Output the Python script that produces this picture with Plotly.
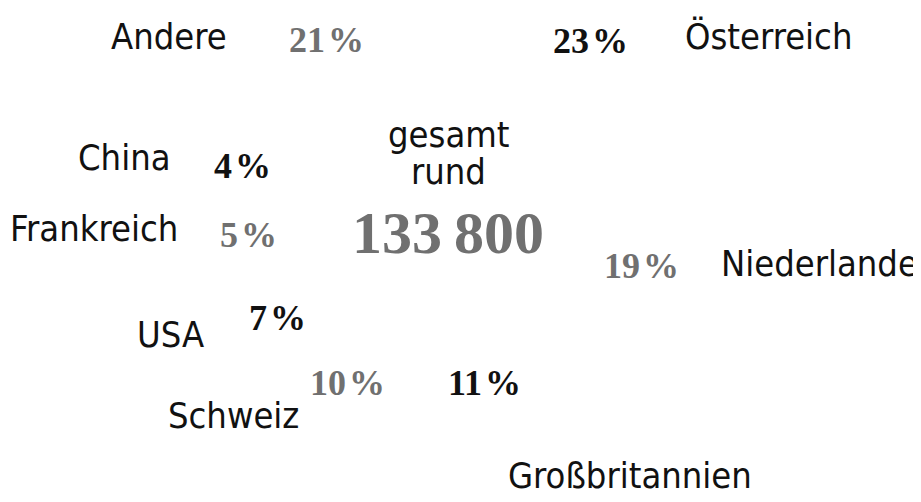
import math
import plotly.graph_objects as go

# ---- data ----
countries = ["Österreich", "Niederlande", "Großbritannien", "Schweiz",
             "USA", "Frankreich", "China", "Andere"]
shares = [23, 19, 11, 10, 7, 5, 4, 21]          # percent
total_lines = ["gesamt", "rund"]
total_value = "133\u2009800"

# ---- styling / label layout (pixels) ----
W, H = 921, 502
CX, CY, R_TXT = 440, 197, 200
PCT_COLORS = ["#111111", "#707070"] * 4
PCT_NUDGE = [(10, -14), (15, -30), (5, -20), (-4, 3), (2, 11), (-2, -1), (-7, -14), (1, -7)]
NAME_OFFSET = [(103, -18, "left"), (93, -32, "left"), (27, 73, "left"), (-51, 35, "right"),
               (-70, 28, "right"), (-70, -8, "right"), (-77, -22, "right"), (-96, -10, "right")]
NAME_FONT = dict(family="DejaVu Sans Condensed, DejaVu Sans, sans-serif", size=36, color="#111111")
PCT_FONT_FAMILY = "Liberation Serif, DejaVu Serif, serif"

fig = go.Figure()
fig.add_trace(go.Pie(
    labels=countries, values=shares, sort=False, direction="clockwise", rotation=0,
    hole=0.62, textinfo="none", hoverinfo="label+percent",
    marker=dict(colors=["#ffffff"] * len(shares), line=dict(color="#ffffff", width=0)),
    domain=dict(x=[0.24, 0.72], y=[0.16, 1.0]), showlegend=False,
))

annotations = []
total = sum(shares)
cum = 0
for i, (name, s) in enumerate(zip(countries, shares)):
    mid = math.radians((cum + s / 2) / total * 360)
    cum += s
    px = CX + R_TXT * math.sin(mid)
    py = CY - R_TXT * math.cos(mid)
    xp, yp = px / W, 1 - py / H
    dx, dy = PCT_NUDGE[i]
    annotations.append(dict(
        x=xp, y=yp, xref="paper", yref="paper", showarrow=False,
        text=f"<b>{s}\u200a%</b>", xanchor="center", yanchor="middle",
        xshift=dx, yshift=-dy,
        font=dict(family=PCT_FONT_FAMILY, size=36, color=PCT_COLORS[i]),
    ))
    ndx, ndy, anc = NAME_OFFSET[i]
    annotations.append(dict(
        x=xp, y=yp, xref="paper", yref="paper", showarrow=False,
        text=name, xanchor=anc, yanchor="middle", xshift=ndx, yshift=-ndy,
        font=NAME_FONT,
    ))

# centre text
annotations.append(dict(x=CX / W, y=1 - 126 / H, xref="paper", yref="paper", showarrow=False,
                        text=total_lines[0], xanchor="center", yanchor="middle", font=NAME_FONT))
annotations.append(dict(x=CX / W, y=1 - 164 / H, xref="paper", yref="paper", showarrow=False,
                        text=total_lines[1], xanchor="center", yanchor="middle", font=NAME_FONT))
annotations.append(dict(x=CX / W, y=1 - 225 / H, xref="paper", yref="paper", showarrow=False,
                        text=f"<b>{total_value}</b>", xanchor="center", yanchor="middle",
                        font=dict(family=PCT_FONT_FAMILY, size=60, color="#707070")))

fig.update_layout(
    width=W, height=H, margin=dict(l=0, r=0, t=0, b=0),
    paper_bgcolor="white", plot_bgcolor="white",
    annotations=annotations, showlegend=False,
)
fig.write_html("out.html")
